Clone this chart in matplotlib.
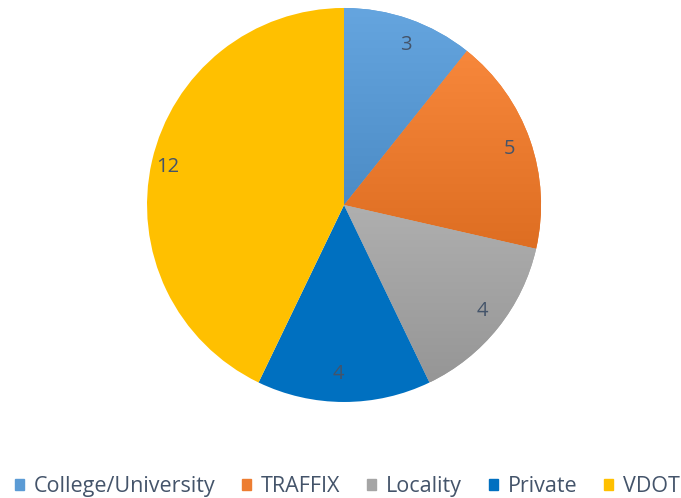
import numpy as np
import matplotlib.pyplot as plt
import matplotlib.colors as mcolors
from matplotlib.patches import Patch

labels = ['College/University', 'TRAFFIX', 'Locality', 'Private', 'VDOT']
values = [3, 5, 4, 4, 12]
colors = ['#5B9BD5', '#ED7D31', '#A5A5A5', '#0070C0', '#FFC000']
gradient = [True, True, True, False, False]

plt.rcParams['font.family'] = ['Open Sans', 'DejaVu Sans']

fig = plt.figure(figsize=(6.81, 4.98), dpi=100)
ax = fig.add_axes([0.2159, 0.1928, 0.5786, 0.7912])

wedges, texts = ax.pie(values, colors=colors, startangle=90, counterclock=False,
                       labels=[str(v) for v in values], labeldistance=0.86,
                       textprops=dict(color='#44546A', fontsize=14.5),
                       wedgeprops=dict(linewidth=0))
ax.set_xlim(-1, 1)
ax.set_ylim(-1, 1)
ax.set_aspect('auto')

# excel-like vertical gradient on some slices
for w, c, g in zip(wedges, colors, gradient):
    if not g:
        continue
    rgb = np.array(mcolors.to_rgb(c))
    top = np.clip(rgb + 0.04, 0, 1)
    bot = np.clip(rgb - 0.06, 0, 1)
    t = np.linspace(0, 1, 256)[:, None]
    img = top[None, :] * (1 - t) + bot[None, :] * t
    img = np.repeat(img[:, None, :], 2, axis=1)
    ext = w.get_path().get_extents(w.get_transform())
    ext = ext.transformed(ax.transData.inverted())
    im = ax.imshow(img, extent=[ext.x0, ext.x1, ext.y0, ext.y1], aspect='auto',
                   origin='upper', zorder=w.get_zorder() + 0.1)
    im.set_clip_path(w)
for t in texts:
    t.set_zorder(5)
ax.set_xlim(-1, 1)
ax.set_ylim(-1, 1)
ax.axis('off')

handles = [Patch(color=c, label=l) for c, l in zip(colors, labels)]
fig.legend(handles=handles, loc='lower center', ncol=5, frameon=False,
           bbox_to_anchor=(0.51, -0.037), handlelength=0.42, handleheight=0.42,
           handletextpad=0.45, columnspacing=1.25,
           prop=dict(size=15.5), labelcolor='#44546A')

fig.savefig('out.png', dpi=100)
